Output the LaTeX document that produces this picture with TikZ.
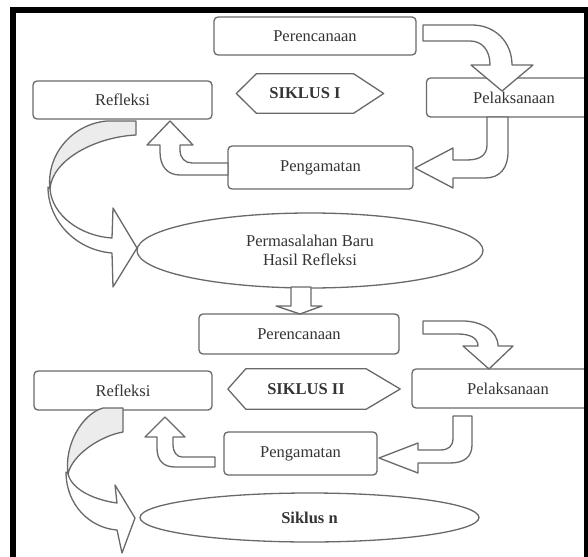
\documentclass[tikz,border=0pt]{standalone}
\usepackage{fontspec}
\setmainfont{Liberation Serif}
\usepackage{tikz}
\usetikzlibrary{shapes.geometric, calc}
\definecolor{clrLine}{RGB}{105,105,105}
\definecolor{clrTxt} {RGB}{ 52, 52, 52}
\definecolor{clrBack}{RGB}{236,236,236}
\newcommand{\lblsize}{\fontsize{16.5}{19.5}\selectfont}
\tikzset{
  stepbox/.style={rectangle, rounded corners=4pt, draw=clrLine, line width=1.3pt, fill=white,
    text=clrTxt, font=\lblsize, inner sep=0pt},
  cyclbl/.style={rectangle, inner sep=0pt, text=clrTxt, font=\lblsize\bfseries},
  hexline/.style={draw=clrLine, line width=1.3pt, line join=round},
  resnode/.style={ellipse, draw=clrLine, line width=1.3pt, fill=white, text=clrTxt,
    font=\lblsize, align=center, inner sep=0pt},
  blockarr/.style={draw=clrLine, line width=1.3pt, fill=white, line join=round},
  backarr/.style={draw=clrLine, line width=1.3pt, fill=clrBack, line join=round},
  frameline/.style={line width=6pt, black},
}

\begin{document}
\begin{tikzpicture}[x=1pt,y=-1pt]
\useasboundingbox (0,0) rectangle (588,556);
\clip (0,0) rectangle (588,556);
% siklus I
\node[stepbox, minimum width=202, minimum height=38] (per1) at (315,36) {Perencanaan};
\node[stepbox, minimum width=179, minimum height=38] (ref1) at (122.5,100) {Refleksi};
\node[stepbox, minimum width=175, minimum height=39] (pel1) at (514,97.5) {Pelaksanaan};
\node[stepbox, minimum width=185, minimum height=43] (peng1) at (320.5,167.5) {Pengamatan};
\node[cyclbl, minimum width=97, minimum height=39] (sik1) at (305,93.5) {SIKLUS I};
\draw[hexline] (sik1.north west) -- (sik1.north east) -- ($(sik1.east)+(30,0)$)
  -- (sik1.south east) -- (sik1.south west) -- ($(sik1.west)+(-20,0)$) -- cycle;
\node[resnode, minimum width=346, minimum height=75] (ell1) at (310,250.5)
 {Permasalahan Baru\\Hasil Refleksi};
% siklus II
\node[stepbox, minimum width=200, minimum height=40] (per2) at (299,334) {Perencanaan};
\node[stepbox, minimum width=178, minimum height=39] (ref2) at (123,390.5) {Refleksi};
\node[stepbox, minimum width=192, minimum height=39] (pel2) at (508,388.5) {Pelaksanaan};
\node[stepbox, minimum width=153, minimum height=43] (peng2) at (300.5,453.5) {Pengamatan};
\node[cyclbl, minimum width=120, minimum height=40] (sik2) at (306,389) {SIKLUS II};
\draw[hexline] (sik2.north west) -- (sik2.north east) -- ($(sik2.east)+(34,0)$)
  -- (sik2.south east) -- (sik2.south west) -- ($(sik2.west)+(-18,0)$) -- cycle;
\node[resnode, minimum width=339, minimum height=49] (elln) at (309.5,517.5)
 {\bfseries Siklus n};
% block arrows, cycle I
\draw[blockarr] (423,25) -- (472,25) .. controls (495,25) and (512,42) .. (512,65)
  -- (533,65) -- (502,91) -- (471,65) -- (490,65)
  .. controls (490,50) and (482,41) .. (470,41) -- (423,41) -- cycle;
\draw[blockarr] (487,117) -- (487,145) .. controls (487,155) and (480,160) .. (467,160)
  -- (453,160) -- (453,148) -- (415,168) -- (453,188) -- (453,178) -- (485,178)
  .. controls (500,178) and (508,168) .. (508,152) -- (508,117) -- cycle;
\draw[blockarr] (228,163) -- (192,163) .. controls (185,163) and (180,158) .. (180,150)
  -- (180,145) -- (193,145) -- (170,121) -- (147,145) -- (160,145) -- (160,152)
  .. controls (160,167) and (168,175) .. (180,175) -- (228,175) -- cycle;
\draw[backarr] (107,121) -- (136,121) -- (136,135) .. controls (95,137) and (52,160) .. (50,189)
  .. controls (46,155) and (72,124) .. (107,121) -- cycle;
\draw[blockarr] (48,187) .. controls (48,220) and (75,250) .. (112,253)
  -- (113,287) -- (137,248) -- (113,208) -- (112,238)
  .. controls (80,236) and (52,215) .. (50,189) -- cycle;
% into cycle II
\draw[blockarr] (291,287) -- (291,306) -- (276,306) -- (300,314) -- (322,306) -- (311,306)
  -- (311,287) -- cycle;
% block arrows, cycle II
\draw[blockarr] (423,321) -- (463,321) .. controls (480,321) and (498,330) .. (498,346)
  -- (513,346) -- (489,369) -- (463,346) -- (478,346)
  .. controls (478,338) and (470,334) .. (458,334) -- (423,334) -- cycle;
\draw[blockarr] (453,416) -- (472,416) -- (472,445) .. controls (472,457) and (464,463) .. (450,463)
  -- (418,463) -- (418,473) -- (379,458) -- (418,443) -- (418,450) -- (440,450)
  .. controls (449,450) and (453,446) .. (453,438) -- cycle;
\draw[blockarr] (215,457) -- (182,457) .. controls (177,457) and (173,452) .. (173,445)
  -- (173,437) -- (185,437) -- (165,417) -- (145,437) -- (157,437) -- (157,448)
  .. controls (157,460) and (163,467) .. (175,467) -- (215,467) -- cycle;
\draw[backarr] (103,408) -- (123,408) -- (123,432) .. controls (100,436) and (72,455) .. (68,474)
  .. controls (64,445) and (82,414) .. (103,408) -- cycle;
\draw[blockarr] (66,472) .. controls (66,505) and (90,528) .. (117,530)
  -- (122,553) -- (135,518) -- (115,485) -- (117,503)
  .. controls (95,500) and (72,490) .. (68,474) -- cycle;
% frame
\draw[frameline] (13,560) -- (13,10) -- (587,10) -- (587,560);
\end{tikzpicture}
\end{document}
